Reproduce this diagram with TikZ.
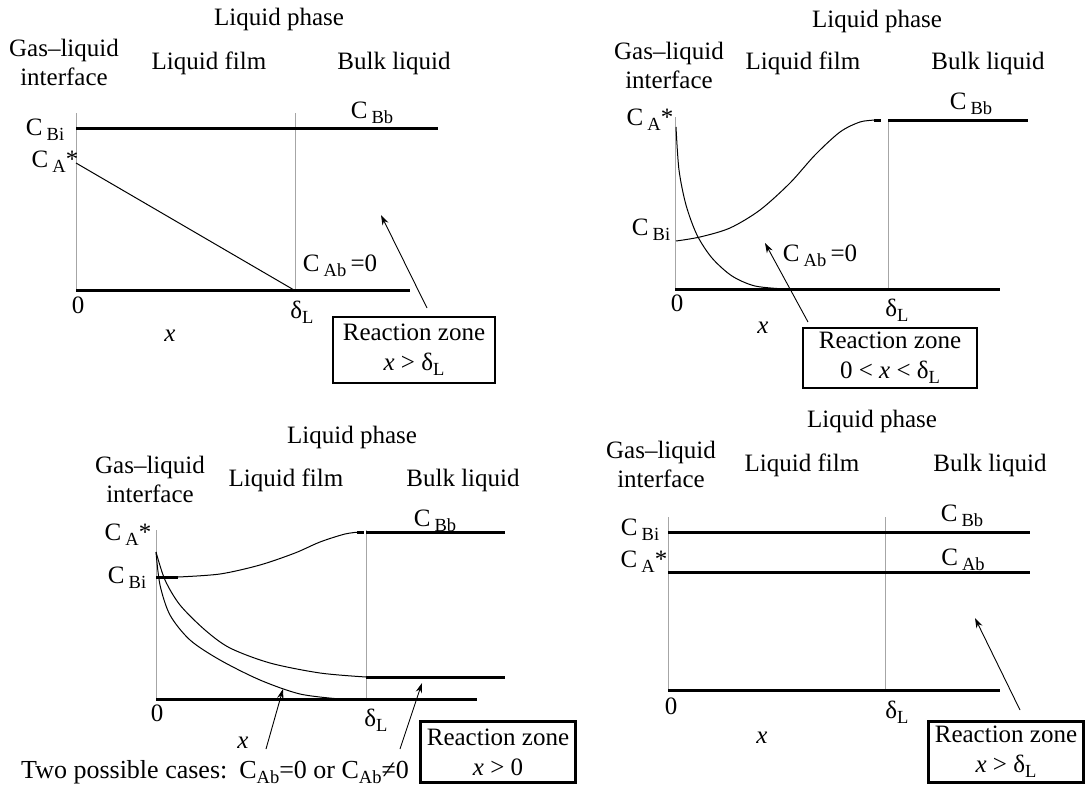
\documentclass[tikz,border=0pt]{standalone}
\usepackage{fontspec}
\setmainfont{Liberation Serif}
\usetikzlibrary{arrows.meta}
\newcommand\sbs[1]{\raisebox{-0.4ex}{\fontsize{18.5}{18.5}\selectfont #1}}
\tikzset{
  lbl/.style={font=\fontsize{25}{29}\selectfont, inner sep=0pt, align=center},
  thk/.style={line width=3pt},
  crv/.style={line width=1pt},
  guide/.style={black!35, line width=0.8pt},
  zone/.style={draw, line width=2.4pt, font=\fontsize{25}{30}\selectfont, align=center, inner sep=0pt},
  arr/.style={line width=0.9pt, -{Stealth[length=10pt,width=6.5pt]}}
}
\begin{document}
\begin{tikzpicture}[x=1pt,y=-1pt]
\useasboundingbox (0,0) rectangle (1085,787);
% ---------------- Panel 1 ----------------
\node[lbl] (p1ph) at (279,19) {Liquid phase};
\node[lbl] (p1gl) at (64,62) {Gas–liquid\\interface};
\node[lbl] (p1lf) at (209,63) {Liquid film};
\node[lbl] (p1bl) at (394,63) {Bulk liquid};
\draw[guide] (76,113) -- (76,290);
\draw[guide] (295,113) -- (295,290);
\draw[thk] (76,128) -- (438,128);
\draw[crv] (76,163) -- (294,290);
\draw[thk] (76,290) -- (410,290);
\node[lbl] (p1cbi) at (45,130) {C\,\sbs{Bi}};
\node[lbl] (p1cbb) at (372,113) {C\,\sbs{Bb}};
\node[lbl] (p1ca) at (55,162) {C\,\sbs{A}*};
\node[lbl] (p1z) at (78,305) {0};
\node[lbl] (p1d) at (302,312) {δ\sbs{L}};
\node[lbl] (p1x) at (170,336) {\textit{x}};
\node[lbl] (p1cab) at (340,266) {C\,\sbs{Ab}\,=0};
\node[zone, minimum width=162pt, minimum height=66pt] (p1box) at (414,350) {Reaction zone\\\textit{x} > δ\sbs{L}};
\coordinate (p1a0) at (427,308);
\coordinate (p1a1) at (381,215);
\draw[arr] (p1a0) -- (p1a1);
% ---------------- Panel 2 ----------------
\node[lbl] (p2ph) at (877,21) {Liquid phase};
\node[lbl] (p2gl) at (669,65) {Gas–liquid\\interface};
\node[lbl] (p2lf) at (803,63) {Liquid film};
\node[lbl] (p2bl) at (988,63) {Bulk liquid};
\draw[guide] (675,117) -- (675,289);
\draw[guide] (888,120) -- (888,289);
\draw[thk] (888,120) -- (1028,120);
\draw[thk] (675,289) -- (1000,289);
\draw[crv] plot[smooth] coordinates {(676,127) (679,170) (686,205) (697,235) (712,258) (732,276) (755,286) (785,289)};
\draw[crv] plot[smooth] coordinates {(676,241) (700,237) (730,228) (760,210) (790,183) (815,155) (840,132) (860,122) (876,120)};
\draw[thk] (874,120) -- (881,120);
\node[lbl] (p2ca) at (650,120) {C\,\sbs{A}*};
\node[lbl] (p2cbi) at (651,230) {C\,\sbs{Bi}};
\node[lbl] (p2cbb) at (971,104) {C\,\sbs{Bb}};
\node[lbl] (p2cab) at (820,256) {C\,\sbs{Ab}\,=0};
\node[lbl] (p2z) at (677,303) {0};
\node[lbl] (p2d) at (897,310) {δ\sbs{L}};
\node[lbl] (p2x) at (763,328) {\textit{x}};
\node[zone, minimum width=174pt, minimum height=60pt] (p2box) at (890,358) {Reaction zone\\0 < \textit{x} < δ\sbs{L}};
\coordinate (p2a0) at (808,322);
\coordinate (p2a1) at (765,243);
\draw[arr] (p2a0) -- (p2a1);
% ---------------- Panel 3 ----------------
\node[lbl] (p3ph) at (352,437) {Liquid phase};
\node[lbl] (p3gl) at (150,479) {Gas–liquid\\interface};
\node[lbl] (p3lf) at (286,480) {Liquid film};
\node[lbl] (p3bl) at (463,480) {Bulk liquid};
\draw[guide] (156,530) -- (156,699);
\draw[guide] (366,530) -- (366,699);
\draw[thk] (366,532) -- (505,532);
\draw[thk] (366,677) -- (505,677);
\draw[thk] (156,699) -- (477,699);
\draw[thk] (156,577) -- (178,577);
\draw[crv] plot[smooth] coordinates {(178,577) (220,574) (260,565) (295,553) (320,542) (345,534) (360,532)};
\draw[thk] (357,532) -- (364,532);
\draw[crv] plot[smooth] coordinates {(156,552) (165,580) (180,605) (205,630) (230,648) (270,663) (320,673) (366,677)};
\draw[crv] plot[smooth] coordinates {(156,552) (160,585) (170,615) (190,640) (220,660) (260,680) (300,694) (340,699)};
\node[lbl] (p3ca) at (128,535) {C\,\sbs{A}*};
\node[lbl] (p3cbi) at (127,578) {C\,\sbs{Bi}};
\node[lbl] (p3cbb) at (435,521) {C\,\sbs{Bb}};
\node[lbl] (p3z) at (157,713) {0};
\node[lbl] (p3d) at (376,720) {δ\sbs{L}};
\node[lbl] (p3x) at (243,743) {\textit{x}};
\node[lbl, anchor=west, font=\fontsize{26}{29}\selectfont] (p3two) at (21,772) {Two possible cases:\hspace{12pt}C\sbs{Ab}=0 or C\sbs{Ab}≠0};
\node[zone, minimum width=155pt, minimum height=61pt] (p3box) at (498,752) {Reaction zone\\\textit{x} > 0};
\coordinate (p3a0) at (266,749);
\coordinate (p3a1) at (283,689);
\coordinate (p3b0) at (400,749);
\coordinate (p3b1) at (422,683);
\draw[arr] (p3a0) -- (p3a1);
\draw[arr] (p3b0) -- (p3b1);
% ---------------- Panel 4 ----------------
\node[lbl] (p4ph) at (872,421) {Liquid phase};
\node[lbl] (p4gl) at (661,464) {Gas–liquid\\interface};
\node[lbl] (p4lf) at (802,465) {Liquid film};
\node[lbl] (p4bl) at (990,465) {Bulk liquid};
\draw[guide] (668,517) -- (668,690);
\draw[guide] (885,517) -- (885,690);
\draw[thk] (668,532) -- (1030,532);
\draw[thk] (668,572) -- (1030,572);
\draw[thk] (668,690) -- (1000,690);
\node[lbl] (p4cbi) at (640,530) {C\,\sbs{Bi}};
\node[lbl] (p4cbb) at (962,516) {C\,\sbs{Bb}};
\node[lbl] (p4ca) at (644,562) {C\,\sbs{A}*};
\node[lbl] (p4cab) at (963,560) {C\,\sbs{Ab}};
\node[lbl] (p4z) at (671,706) {0};
\node[lbl] (p4d) at (897,712) {δ\sbs{L}};
\node[lbl] (p4x) at (762,738) {\textit{x}};
\node[zone, minimum width=155pt, minimum height=61pt] (p4box) at (1006,752) {Reaction zone\\\textit{x} > δ\sbs{L}};
\coordinate (p4a0) at (1020,710);
\coordinate (p4a1) at (975,618);
\draw[arr] (p4a0) -- (p4a1);
\end{tikzpicture}
\end{document}
